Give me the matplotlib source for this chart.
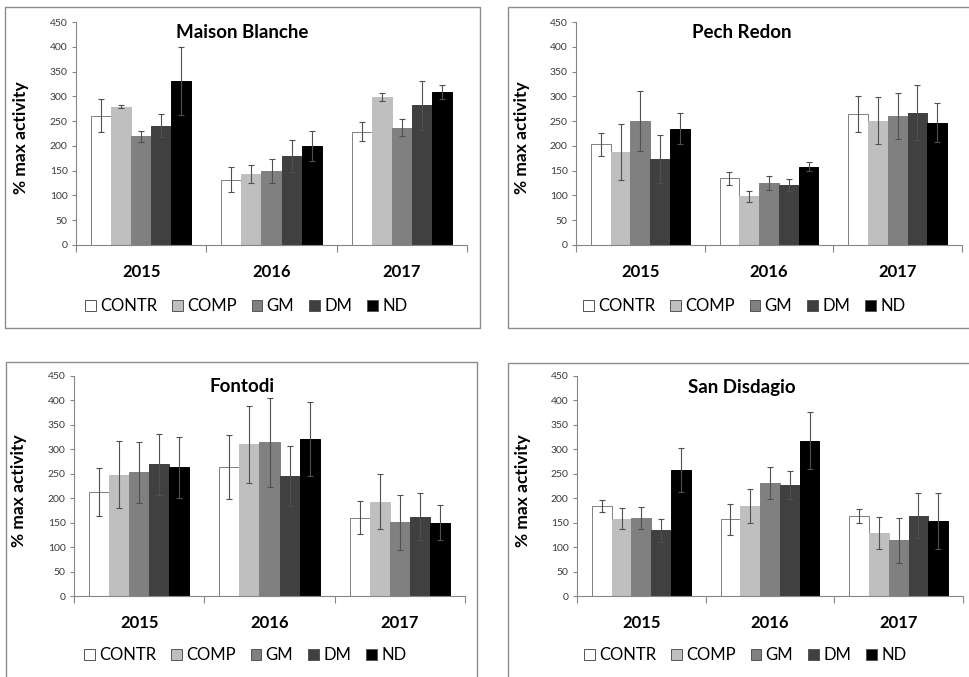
import numpy as np
import matplotlib
matplotlib.use("Agg")
import matplotlib.pyplot as plt
from matplotlib.patches import Rectangle

plt.rcParams['font.family'] = ['Lato', 'DejaVu Sans']

years = ['2015', '2016', '2017']
treatments = ['CONTR', 'COMP', 'GM', 'DM', 'ND']
colors = ['#ffffff', '#bfbfbf', '#808080', '#404040', '#000000']

# means per site: rows = treatment, cols = year
maison_mean = [[261, 132, 229], [279, 143, 299], [219, 150, 237], [241, 179, 282], [331, 200, 309]]
maison_err = [[33, 26, 19], [3, 18, 8], [11, 24, 17], [23, 32, 49], [68, 31, 14]]

pech_mean = [[203, 135, 265], [188, 98, 251], [250, 125, 260], [174, 121, 267], [235, 158, 247]]
pech_err = [[24, 13, 36], [57, 11, 47], [60, 14, 46], [48, 13, 56], [31, 9, 39]]

fontodi_mean = [[212, 264, 160], [248, 310, 193], [253, 314, 151], [269, 246, 162], [263, 321, 150]]
fontodi_err = [[49, 65, 34], [69, 78, 56], [62, 92, 56], [62, 61, 48], [63, 76, 36]]

sandis_mean = [[184, 157, 163], [158, 184, 129], [160, 231, 114], [134, 227, 164], [257, 318, 154]]
sandis_err = [[12, 32, 14], [21, 35, 33], [23, 32, 46], [23, 28, 46], [45, 58, 57]]

sites = ['Maison Blanche', 'Pech Redon', 'Fontodi', 'San Disdagio']
means = [maison_mean, pech_mean, fontodi_mean, sandis_mean]
errs = [maison_err, pech_err, fontodi_err, sandis_err]

W, H = 969, 677
fig = plt.figure(figsize=(W / 100, H / 100), dpi=100)

# pixel boxes: axes (left, top, right, bottom), frame, title xy, legend xy
axes_px = [(76, 22, 467, 245), (576, 22, 962, 245), (74, 376, 465, 596), (577, 376, 963, 596)]
frame_px = [(5, 7, 480, 328), (508, 7, 980, 328), (6, 362, 477, 685), (508, 363, 980, 685)]
title_px = [(242, 32), (742, 32), (242, 387), (742, 387)]
legend_px = [(246, 306), (744, 306), (245, 655), (745, 655)]

axis_col = '#868686'
text_col = '#3a3a3a'
w = 1 / 6.5
x = np.arange(len(years))

for k in range(4):
    l, t, r, b = frame_px[k]
    fig.patches.append(Rectangle((l / W, 1 - b / H), (r - l) / W, (b - t) / H,
                                 transform=fig.transFigure, fill=False,
                                 edgecolor='#8c8c8c', linewidth=1.0))
    l, t, r, b = axes_px[k]
    ax = fig.add_axes([l / W, 1 - b / H, (r - l) / W, (b - t) / H])
    bars = []
    for i, name in enumerate(treatments):
        bc = ax.bar(x + (i - 2) * w, means[k][i], w, color=colors[i],
                    edgecolor='#7f7f7f' if i == 0 else colors[i], linewidth=0.7,
                    label=name, zorder=2)
        ax.errorbar(x + (i - 2) * w, means[k][i], yerr=errs[k][i], fmt='none',
                    ecolor='#505050', elinewidth=0.8, capsize=2.5, capthick=0.8, zorder=3)
        bars.append(bc)
    ax.set_xlim(-0.5, 2.5)
    ax.set_ylim(0, 450)
    ax.set_yticks(np.arange(0, 451, 50))
    ax.tick_params(axis='y', labelsize=7.5, colors=axis_col, labelcolor=text_col,
                   length=3, width=0.8, pad=3)
    ax.set_xticks(x)
    ax.set_xticklabels(years, fontsize=12, fontweight='bold', color='black')
    ax.tick_params(axis='x', which='major', length=0, pad=14)
    ax.set_xticks([-0.5, 0.5, 1.5, 2.5], minor=True)
    ax.tick_params(axis='x', which='minor', length=5, width=0.8, colors=axis_col)
    for s in ['top', 'right']:
        ax.spines[s].set_visible(False)
    for s in ['left', 'bottom']:
        ax.spines[s].set_color(axis_col)
        ax.spines[s].set_linewidth(0.8)
    ax.set_ylabel('% max activity', fontsize=12.5, fontweight='bold', color='black')
    ax.yaxis.set_label_coords(-0.12, 0.48)
    tx, ty = title_px[k]
    fig.text(tx / W, 1 - ty / H, sites[k], ha='center', va='center',
             fontsize=13.5, fontweight='bold')
    lx, ly = legend_px[k]
    leg = fig.legend(handles=bars, labels=treatments, loc='center',
                     bbox_to_anchor=(lx / W, 1 - ly / H), ncol=5, frameon=False,
                     fontsize=12, handlelength=0.65, handleheight=0.65,
                     handletextpad=0.25, columnspacing=0.9, borderaxespad=0)
    for p in leg.get_patches():
        p.set_edgecolor('#555555')
        p.set_linewidth(0.7)

fig.savefig('out.png', dpi=100)
